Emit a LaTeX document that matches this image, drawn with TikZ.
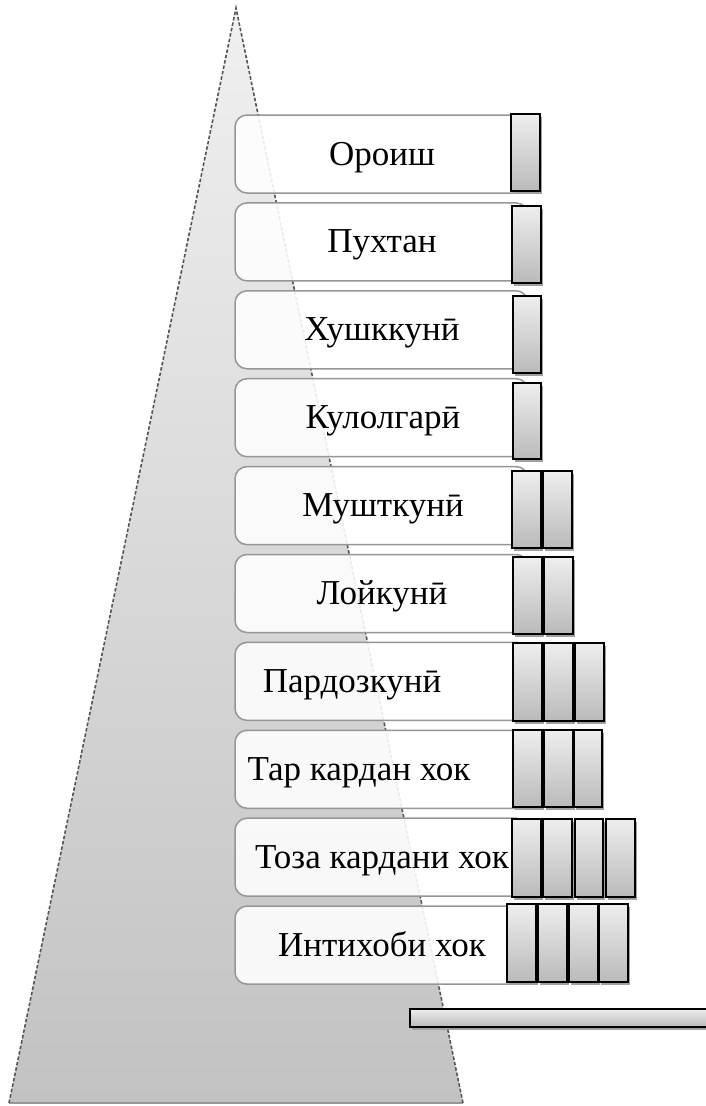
\documentclass[tikz,border=0pt]{standalone}
\usepackage{fontspec}
\setmainfont{Liberation Serif}
\usetikzlibrary{shadows}
\definecolor{triTop}{RGB}{240,240,240}
\definecolor{triBot}{RGB}{194,194,194}
\definecolor{triEdge}{RGB}{85,85,85}
\definecolor{boxEdge}{RGB}{150,150,150}
\definecolor{brTop}{RGB}{238,238,238}
\definecolor{brBot}{RGB}{186,186,186}
\definecolor{shad}{RGB}{160,160,160}
\tikzset{
  stagebox/.style={draw=boxEdge, line width=1.5pt, fill=white, fill opacity=0.88,
    rounded corners=12pt, minimum width=293pt, minimum height=78pt, inner sep=0pt},
  brick/.style={draw=black, line width=1.8pt, top color=brTop, bottom color=brBot,
    inner sep=0pt, drop shadow={shadow xshift=2pt, shadow yshift=-2.5pt, fill=shad, opacity=1}},
  lbl/.style={anchor=base, inner sep=0pt, font=\fontsize{35}{42}\selectfont},
}
\newcommand\mybrick[5]{\node[brick, minimum width={#4-#2}, minimum height={#5-#3}] (#1) at ({(#2+#4)/2},{(#3+#5)/2}) {};}
\begin{document}
\begin{tikzpicture}[x=1pt,y=-1pt]
\useasboundingbox (0,0) rectangle (705,1106);
% pyramid
\coordinate (apex) at (236,8);
\coordinate (bl) at (9,1103);
\coordinate (br) at (463,1103);
\shade[top color=triTop, bottom color=triBot] (apex) -- (br) -- (bl) -- cycle;
\draw[boxEdge, line width=1.5pt] (bl) -- (br);
\draw[triEdge, line width=1.6pt, dash pattern=on 3.5pt off 2pt] (bl) -- (apex) -- (br);
% stage boxes
\foreach \i/\c in {1/154,2/241.9,3/329.8,4/417.7,5/505.6,6/593.5,7/681.4,8/769.3,9/857.2,10/945.1}
  \node[stagebox] (b\i) at (381.5,\c) {};
% bricks
\mybrick{r1a}{511}{114}{540}{191}
\mybrick{r2a}{512}{206}{541}{283}
\mybrick{r3a}{513}{296}{541}{373}
\mybrick{r4a}{513}{383}{541}{459}
\mybrick{r5a}{512}{471}{541}{548}
\mybrick{r5b}{543}{471}{572}{548}
\mybrick{r6a}{513}{557}{542}{634}
\mybrick{r6b}{544}{557}{573}{634}
\mybrick{r7a}{513}{643}{542}{721}
\mybrick{r7b}{544}{643}{573}{721}
\mybrick{r7c}{575}{643}{604}{721}
\mybrick{r8a}{513}{730}{542}{807}
\mybrick{r8b}{544}{730}{573}{807}
\mybrick{r8c}{574}{730}{602}{807}
\mybrick{r9a}{512}{819}{541}{897}
\mybrick{r9b}{543}{819}{572}{897}
\mybrick{r9c}{575}{819}{603}{897}
\mybrick{r9d}{606}{819}{635}{897}
\mybrick{r10a}{507}{904}{536}{982}
\mybrick{r10b}{538}{904}{567}{982}
\mybrick{r10c}{569}{904}{598}{982}
\mybrick{r10d}{599}{904}{628}{982}
\mybrick{bar}{410}{1009}{716}{1027}
% labels
\node[lbl] (t1) at (382,165) {Ороиш};
\node[lbl] (t2) at (382,252.9) {Пухтан};
\node[lbl] (t3) at (382,340.8) {Хушккунӣ};
\node[lbl] (t4) at (383,428.7) {Кулолгарӣ};
\node[lbl] (t5) at (383,516.6) {Мушткунӣ};
\node[lbl] (t6) at (382,604.5) {Лойкунӣ};
\node[lbl] (t7) at (352,692.4) {Пардозкунӣ};
\node[lbl] (t8) at (359,780.3) {Тар кардан хок};
\node[lbl] (t9) at (382,868.2) {Тоза кардани хок};
\node[lbl] (t10) at (382,956.1) {Интихоби хок};
\end{tikzpicture}
\end{document}
